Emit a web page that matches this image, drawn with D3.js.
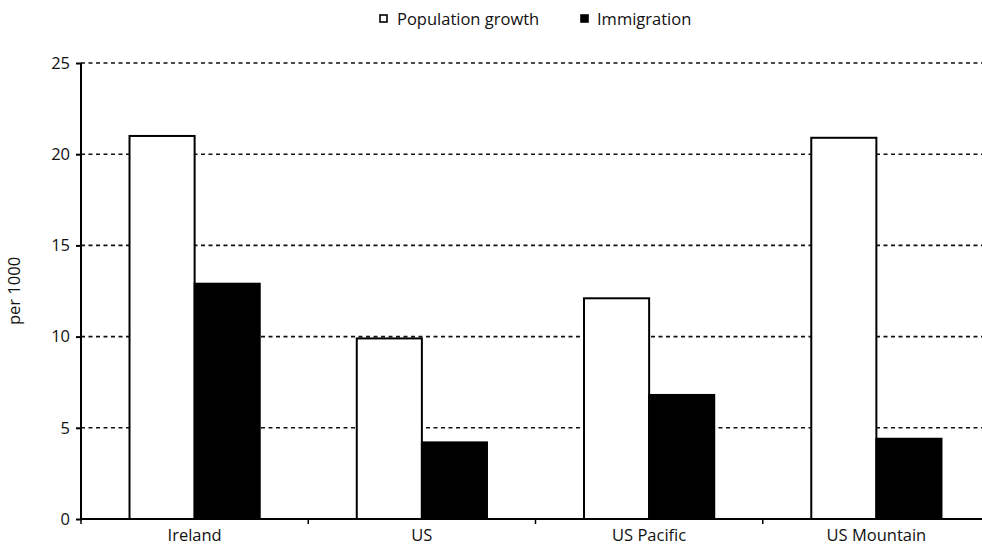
<!DOCTYPE html>
<html><head><meta charset="utf-8">
<script src="https://cdn.jsdelivr.net/npm/d3@7"></script>
<style>body{margin:0;background:#fff}svg{display:block}text{font-family:"Open Sans",sans-serif;fill:#111}</style>
</head><body><svg id="c" width="982" height="547"></svg>
<script>
const categories = ["Ireland", "US", "US Pacific", "US Mountain"];
const seriesNames = ["Population growth", "Immigration"];
const populationGrowth = [21.0, 9.9, 12.1, 20.9];
const immigration = [12.9, 4.2, 6.8, 4.4];
const yTicks = [0, 5, 10, 15, 20, 25];
const yLabel = "per 1000";

const FS = 16.5;
const svg = d3.select("#c");
const mLeft = 81, mRight = 990, mTop = 63, mBottom = 519;
const x0 = d3.scaleBand().domain(categories).range([mLeft, mRight]).paddingInner(0.427).paddingOuter(0.2135);
const x1 = d3.scaleBand().domain(seriesNames).range([0, x0.bandwidth()]);
const y = d3.scaleLinear().domain([0, 25]).range([mBottom, mTop]);
const fills = {"Population growth": "#fff", "Immigration": "#000"};

// gridlines
svg.append("g").selectAll("line").data(yTicks.filter(d => d > 0)).join("line")
  .attr("x1", mLeft).attr("x2", 982).attr("y1", d => y(d)).attr("y2", d => y(d))
  .attr("stroke", "#111").attr("stroke-width", 1.6).attr("stroke-dasharray", "4,3.5");

// bars
const rows = categories.map((c, i) => ({c, vals: [
  {k: seriesNames[0], v: populationGrowth[i]}, {k: seriesNames[1], v: immigration[i]}]}));
svg.append("g").selectAll("g").data(rows).join("g")
  .attr("transform", d => `translate(${x0(d.c)},0)`)
  .selectAll("rect").data(d => d.vals).join("rect")
  .attr("x", d => x1(d.k)).attr("width", x1.bandwidth())
  .attr("y", d => y(d.v)).attr("height", d => y(0) - y(d.v))
  .attr("fill", d => fills[d.k]).attr("stroke", "#000").attr("stroke-width", 2);

// y axis
const ya = svg.append("g").attr("transform", `translate(${mLeft},0)`)
  .call(d3.axisLeft(y).tickValues(yTicks).tickSize(5).tickPadding(6));
ya.select(".domain").attr("stroke", "#000").attr("stroke-width", 2).attr("d", `M0,${mTop}V${mBottom}`);
ya.selectAll(".tick line").attr("stroke", "#000").attr("stroke-width", 2).attr("x1", 1);
ya.selectAll("text").attr("font-size", FS).attr("font-family", '"Open Sans",sans-serif').attr("fill", "#111");

// x axis
const xa = svg.append("g").attr("transform", `translate(0,${mBottom})`)
  .call(d3.axisBottom(x0).tickSize(0).tickPadding(5));
xa.select(".domain").attr("stroke", "#000").attr("stroke-width", 2).attr("d", `M${mLeft},0H${mRight}`);
xa.selectAll("text").attr("font-size", FS).attr("font-family", '"Open Sans",sans-serif').attr("fill", "#111").attr("dy", "1.05em");
const sepTicks = categories.map(c => x0(c) - x0.step() * x0.paddingInner() / 2);
svg.append("g").selectAll("line").data(sepTicks).join("line")
  .attr("x1", d => d).attr("x2", d => d).attr("y1", mBottom).attr("y2", mBottom + 5)
  .attr("stroke", "#000").attr("stroke-width", 1.5);

// y label
svg.append("text").attr("transform", `translate(20,${(mTop + mBottom) / 2}) rotate(-90)`)
  .attr("text-anchor", "middle").attr("font-size", FS).text(yLabel);

// legend
const legend = [{k: seriesNames[0], sx: 379, tx: 397}, {k: seriesNames[1], sx: 580, tx: 597}];
const lg = svg.append("g");
legend.forEach(l => {
  lg.append("rect").attr("x", l.sx + 1).attr("y", 15).attr("width", 7).attr("height", 7)
    .attr("fill", fills[l.k]).attr("stroke", "#000").attr("stroke-width", 1.6);
  lg.append("text").attr("x", l.tx).attr("y", 25).attr("font-size", FS).text(l.k);
});
</script></body></html>
